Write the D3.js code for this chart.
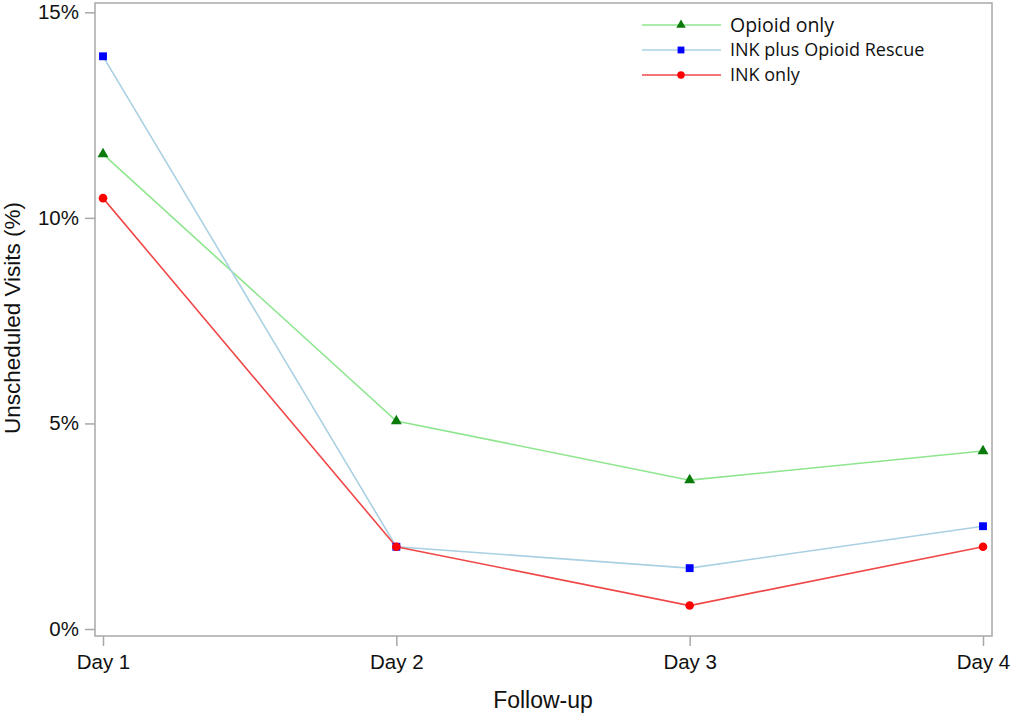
<!DOCTYPE html>
<html>
<head>
<meta charset="utf-8">
<script src="https://cdn.jsdelivr.net/npm/d3@7"></script>
<style>
  body { margin: 0; background: #fff; }
  svg text { font-family: "Liberation Sans", Arial, sans-serif; fill: #111; }
</style>
</head>
<body>
<div id="chart"></div>
<script>
const days = ["Day 1", "Day 2", "Day 3", "Day 4"];
const opioidOnly = [11.55, 5.06, 3.62, 4.33];
const inkPlusRescue = [13.93, 2.0, 1.48, 2.5];
const inkOnly = [10.48, 2.0, 0.57, 2.0];
const yTicks = [0, 5, 10, 15];

const series = [
  { name: "Opioid only", values: opioidOnly, line: "#8ee68e", mark: "#0a7a0a", shape: d3.symbolTriangle, size: 52 },
  { name: "INK plus Opioid Rescue", values: inkPlusRescue, line: "#a9d0e3", mark: "#0000ff", shape: d3.symbolSquare, size: 62 },
  { name: "INK only", values: inkOnly, line: "#f04848", mark: "#ff0000", shape: d3.symbolCircle, size: 58 }
];

const W = 1011, H = 716;
const frame = { left: 95, top: 3, right: 992, bottom: 636 };

const svg = d3.select("#chart").append("svg")
  .attr("width", W).attr("height", H);

const x = d3.scalePoint().domain(days).range([103, 983]);
const y = d3.scaleLinear().domain([0, 15]).range([629, 12.3]);

// frame
svg.append("rect")
  .attr("x", frame.left).attr("y", frame.top)
  .attr("width", frame.right - frame.left).attr("height", frame.bottom - frame.top)
  .attr("fill", "none").attr("stroke", "#a8a8a8").attr("stroke-width", 1.5);

// y axis
const yAxis = svg.append("g")
  .attr("transform", `translate(${frame.left},0)`)
  .call(d3.axisLeft(y).tickValues(yTicks).tickFormat(d => d + "%").tickSize(10).tickPadding(6));
yAxis.select(".domain").remove();
yAxis.selectAll(".tick line").attr("stroke", "#a8a8a8").attr("stroke-width", 1.5);
yAxis.selectAll(".tick text").style("font-size", "20.5px").attr("fill", "#111");

// x axis
const xAxis = svg.append("g")
  .attr("transform", `translate(0,${frame.bottom})`)
  .call(d3.axisBottom(x).tickSize(10).tickPadding(8));
xAxis.select(".domain").remove();
xAxis.selectAll(".tick line").attr("stroke", "#a8a8a8").attr("stroke-width", 1.5);
xAxis.selectAll(".tick text").style("font-size", "20.5px").attr("fill", "#111");

// axis titles
svg.append("text")
  .attr("transform", `translate(20,${(196 + 440) / 2}) rotate(-90)`)
  .attr("text-anchor", "middle")
  .style("font-size", "22.5px")
  .text("Unscheduled Visits (%)");

svg.append("text")
  .attr("x", 543).attr("y", 708)
  .attr("text-anchor", "middle")
  .style("font-size", "23px")
  .text("Follow-up");

// lines
const line = d3.line().x((d, i) => x(days[i])).y(d => y(d));

series.forEach(s => {
  svg.append("path")
    .datum(s.values)
    .attr("fill", "none")
    .attr("stroke", s.line)
    .attr("stroke-width", 1.6)
    .attr("d", line);
});

series.forEach(s => {
  svg.selectAll(null)
    .data(s.values)
    .enter()
    .append("path")
    .attr("transform", (d, i) => `translate(${x(days[i])},${y(d)})`)
    .attr("d", d3.symbol().type(s.shape).size(s.size))
    .attr("fill", s.mark);
});

// legend
const legend = svg.append("g").attr("transform", "translate(642,25)");
series.forEach((s, i) => {
  const g = legend.append("g").attr("transform", `translate(0,${i * 25})`);
  g.append("line").attr("x1", 0).attr("x2", 79).attr("y1", 0).attr("y2", 0)
    .attr("stroke", s.line).attr("stroke-width", 1.6);
  g.append("path")
    .attr("transform", "translate(39,0)")
    .attr("d", d3.symbol().type(s.shape).size(s.size * 0.75))
    .attr("fill", s.mark);
  g.append("text")
    .attr("x", 88).attr("y", 0).attr("dy", "0.35em")
    .style("font-family", "'Open Sans', sans-serif")
    .style("font-size", i === 0 ? "19.5px" : "18px")
    .text(s.name);
});
</script>
</body>
</html>
